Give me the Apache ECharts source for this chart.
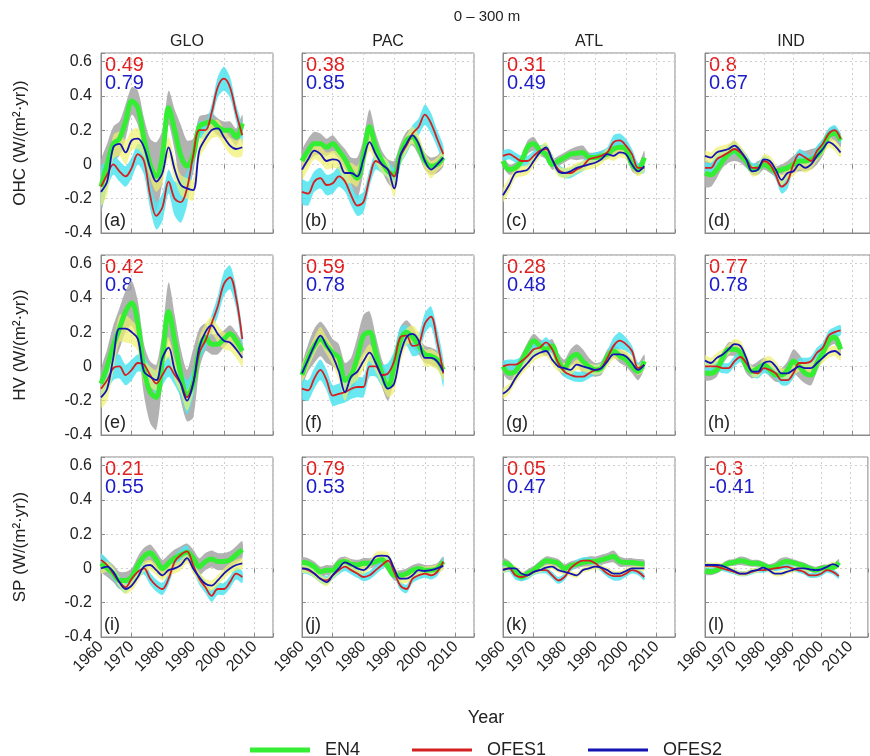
<!DOCTYPE html>
<html><head><meta charset="utf-8">
<script src="https://cdn.jsdelivr.net/npm/echarts@6/dist/echarts.min.js"></script>
<style>html,body{margin:0;padding:0;background:#fff}#c{width:870px;height:756px}</style>
</head><body><div id="c"></div>
<script>
// ---------------- DATA ----------------
const years = [1960,1962,1964,1966,1968,1970,1972,1974,1976,1978,1980,1982,1984,1986,1988,1990,1992,1994,1996,1998,2000,2002,2004,2006];
const xTicks = [1960,1970,1980,1990,2000,2010];
const yTicks = [-0.4,-0.2,0,0.2,0.4,0.6];
const basins = ['GLO','PAC','ATL','IND'];
const quantities = ['OHC','HV','SP'];
const panelLetters = ['a','b','c','d','e','f','g','h','i','j','k','l'];
const corrOFES1 = [0.49,0.38,0.31,0.8, 0.42,0.59,0.28,0.77, 0.21,0.79,0.05,-0.3];
const corrOFES2 = [0.79,0.85,0.49,0.67, 0.8,0.78,0.48,0.78, 0.55,0.53,0.47,-0.41];
const seriesNames = ['EN4','OFES1','OFES2'];

// OHC
const glo_ohc_en4   = [-0.13,0.0,0.12,0.15,0.25,0.37,0.33,0.15,0.0,-0.07,0.05,0.33,0.2,0.05,-0.01,0.05,0.22,0.24,0.25,0.22,0.2,0.2,0.16,0.24];
const glo_ohc_ofes1 = [-0.13,-0.06,0.0,-0.04,-0.07,-0.02,0.06,0.02,-0.18,-0.3,-0.25,-0.1,-0.2,-0.22,-0.14,0.05,0.2,0.2,0.3,0.45,0.5,0.45,0.3,0.17];
const glo_ohc_ofes2 = [-0.16,-0.1,0.1,0.12,0.07,0.14,0.15,0.1,-0.02,-0.1,-0.05,0.1,-0.03,-0.12,-0.14,-0.15,0.08,0.15,0.2,0.21,0.16,0.11,0.09,0.1];
const glo_ohc_en4_sd   = [0.15,0.12,0.1,0.1,0.1,0.08,0.1,0.12,0.15,0.2,0.15,0.1,0.12,0.18,0.15,0.1,0.06,0.05,0.05,0.05,0.05,0.05,0.05,0.05];
const glo_ohc_ofes1_sd = [0.12,0.08,0.06,0.06,0.06,0.06,0.06,0.08,0.08,0.08,0.08,0.07,0.1,0.12,0.1,0.07,0.05,0.05,0.05,0.06,0.07,0.06,0.05,0.05];
const glo_ohc_ofes2_sd = [0.08,0.08,0.07,0.07,0.07,0.06,0.06,0.06,0.06,0.06,0.06,0.06,0.06,0.06,0.06,0.06,0.05,0.05,0.05,0.05,0.05,0.05,0.05,0.05];

const pac_ohc_en4   = [0.02,0.08,0.12,0.12,0.1,0.12,0.08,0.03,-0.04,-0.08,0.05,0.22,0.1,0.02,-0.04,-0.06,0.06,0.14,0.16,0.1,0.02,-0.01,0.0,0.04];
const pac_ohc_ofes1 = [-0.16,-0.17,-0.1,-0.08,-0.12,-0.11,-0.07,-0.1,-0.18,-0.24,-0.22,-0.08,0.02,0.0,-0.03,-0.07,0.05,0.11,0.18,0.22,0.29,0.24,0.15,0.06];
const pac_ohc_ofes2 = [-0.03,0.03,0.08,0.06,0.02,0.03,0.02,-0.05,-0.05,-0.07,0.03,0.13,0.06,0.0,-0.03,-0.14,0.05,0.12,0.17,0.12,0.02,-0.03,0.0,0.04];
const pac_ohc_en4_sd   = [0.06,0.07,0.07,0.06,0.05,0.05,0.05,0.06,0.08,0.12,0.1,0.1,0.08,0.06,0.07,0.08,0.06,0.05,0.05,0.05,0.05,0.05,0.05,0.05];
const pac_ohc_ofes1_sd = [0.07,0.07,0.06,0.06,0.06,0.06,0.06,0.06,0.06,0.06,0.06,0.05,0.05,0.05,0.05,0.05,0.05,0.05,0.05,0.05,0.06,0.06,0.05,0.05];
const pac_ohc_ofes2_sd = [0.06,0.06,0.05,0.05,0.05,0.05,0.05,0.06,0.06,0.06,0.05,0.05,0.05,0.05,0.05,0.05,0.05,0.05,0.05,0.05,0.05,0.05,0.04,0.04];

const atl_ohc_en4   = [0.02,-0.03,-0.02,0.02,0.1,0.12,0.08,0.06,0.0,0.02,0.04,0.06,0.065,0.07,0.04,0.04,0.05,0.06,0.09,0.1,0.09,0.0,-0.03,0.04];
const atl_ohc_ofes1 = [0.05,0.06,0.04,0.02,0.02,0.05,0.08,0.09,0.03,-0.03,-0.05,-0.05,-0.03,-0.01,0.03,0.04,0.05,0.07,0.13,0.14,0.11,0.06,-0.02,-0.02];
const atl_ohc_ofes2 = [-0.18,-0.12,-0.05,-0.04,-0.03,0.02,0.07,0.1,0.03,-0.04,-0.05,-0.04,-0.02,-0.01,0.0,0.01,0.03,0.06,0.05,0.07,0.06,0.0,-0.04,-0.01];
const atl_ohc_en4_sd   = [0.03,0.03,0.03,0.03,0.04,0.04,0.03,0.03,0.03,0.03,0.03,0.03,0.04,0.04,0.03,0.03,0.03,0.03,0.04,0.04,0.04,0.04,0.03,0.04];
const atl_ohc_ofes1_sd = [0.03,0.03,0.03,0.03,0.03,0.03,0.03,0.03,0.03,0.03,0.03,0.03,0.03,0.03,0.03,0.03,0.03,0.03,0.04,0.04,0.04,0.03,0.03,0.03];
const atl_ohc_ofes2_sd = [0.04,0.04,0.03,0.03,0.03,0.03,0.03,0.03,0.03,0.03,0.03,0.03,0.03,0.03,0.03,0.03,0.03,0.03,0.03,0.03,0.03,0.03,0.03,0.03];

const ind_ohc_en4   = [-0.05,-0.06,-0.03,0.02,0.06,0.08,0.05,0.02,-0.03,-0.02,0.0,-0.02,-0.04,-0.03,-0.02,0.0,0.02,0.02,0.03,0.05,0.1,0.17,0.18,0.14];
const ind_ohc_ofes1 = [-0.02,-0.02,0.03,0.05,0.07,0.09,0.07,0.03,-0.02,-0.02,0.02,0.0,-0.06,-0.13,-0.1,0.0,0.06,0.04,0.02,0.08,0.12,0.18,0.2,0.15];
const ind_ohc_ofes2 = [0.05,0.04,0.07,0.08,0.09,0.11,0.08,0.03,-0.04,-0.03,0.03,0.02,-0.03,-0.09,-0.05,-0.04,0.0,-0.02,0.0,0.05,0.09,0.13,0.11,0.07];
const ind_ohc_en4_sd   = [0.08,0.07,0.05,0.04,0.05,0.06,0.04,0.04,0.03,0.04,0.03,0.03,0.03,0.03,0.04,0.05,0.06,0.06,0.06,0.05,0.05,0.04,0.04,0.04];
const ind_ohc_ofes1_sd = [0.03,0.03,0.03,0.03,0.03,0.03,0.03,0.03,0.03,0.03,0.03,0.03,0.03,0.04,0.04,0.03,0.03,0.03,0.03,0.03,0.03,0.03,0.03,0.03];
const ind_ohc_ofes2_sd = [0.03,0.03,0.03,0.03,0.03,0.03,0.03,0.03,0.03,0.03,0.03,0.03,0.03,0.03,0.03,0.03,0.03,0.03,0.03,0.03,0.03,0.03,0.03,0.03];

// HV
const glo_hv_en4   = [-0.1,0.0,0.12,0.22,0.32,0.37,0.25,-0.02,-0.15,-0.18,0.05,0.32,0.15,-0.05,-0.17,-0.1,0.1,0.17,0.13,0.13,0.16,0.19,0.15,0.09];
const glo_hv_ofes1 = [-0.13,-0.08,-0.01,0.0,-0.05,-0.02,0.02,0.01,-0.05,-0.1,-0.05,0.0,-0.05,-0.1,-0.18,-0.1,0.08,0.15,0.25,0.35,0.48,0.52,0.4,0.16];
const glo_hv_ofes2 = [-0.18,-0.13,0.05,0.22,0.22,0.2,0.16,-0.03,-0.06,-0.08,0.05,0.11,-0.02,-0.1,-0.2,-0.1,0.11,0.2,0.24,0.19,0.15,0.14,0.1,0.05];
const glo_hv_en4_sd   = [0.08,0.1,0.12,0.12,0.12,0.13,0.13,0.15,0.18,0.19,0.15,0.17,0.15,0.15,0.15,0.2,0.12,0.08,0.06,0.06,0.05,0.05,0.05,0.05];
const glo_hv_ofes1_sd = [0.06,0.06,0.07,0.07,0.06,0.06,0.05,0.05,0.05,0.06,0.06,0.06,0.06,0.08,0.1,0.08,0.05,0.05,0.05,0.06,0.07,0.07,0.06,0.05];
const glo_hv_ofes2_sd = [0.06,0.07,0.08,0.08,0.08,0.07,0.07,0.07,0.06,0.06,0.06,0.06,0.06,0.06,0.06,0.06,0.06,0.05,0.05,0.05,0.05,0.05,0.05,0.05];

const pac_hv_en4   = [-0.05,0.05,0.12,0.16,0.12,0.08,0.05,-0.08,-0.05,0.05,0.18,0.2,0.08,-0.04,-0.12,0.0,0.15,0.2,0.17,0.12,0.07,0.06,0.04,-0.02];
const pac_hv_ofes1 = [-0.13,-0.14,-0.07,-0.02,-0.08,-0.17,-0.16,-0.15,-0.13,-0.12,-0.12,0.0,0.0,-0.05,-0.04,0.03,0.17,0.18,0.12,0.13,0.25,0.29,0.15,-0.04];
const pac_hv_ofes2 = [-0.04,0.04,0.12,0.18,0.12,0.06,-0.03,-0.15,-0.06,-0.03,0.03,0.08,0.02,-0.06,-0.13,-0.1,0.07,0.17,0.19,0.15,0.05,0.05,0.03,-0.03];
const pac_hv_en4_sd   = [0.06,0.08,0.1,0.1,0.1,0.08,0.08,0.1,0.1,0.12,0.12,0.12,0.1,0.08,0.08,0.08,0.08,0.07,0.06,0.05,0.05,0.05,0.05,0.05];
const pac_hv_ofes1_sd = [0.06,0.06,0.06,0.06,0.06,0.06,0.06,0.06,0.06,0.06,0.06,0.06,0.06,0.06,0.06,0.06,0.06,0.06,0.06,0.06,0.06,0.06,0.07,0.08];
const pac_hv_ofes2_sd = [0.05,0.05,0.05,0.05,0.05,0.05,0.05,0.05,0.05,0.05,0.05,0.05,0.05,0.05,0.05,0.05,0.05,0.05,0.05,0.05,0.05,0.05,0.05,0.05];

const atl_hv_en4   = [0.0,-0.04,-0.03,0.03,0.1,0.15,0.12,0.1,0.12,0.03,-0.01,0.05,0.07,0.03,0.0,-0.02,-0.01,0.06,0.09,0.06,0.04,0.0,-0.03,0.03];
const atl_hv_ofes1 = [0.0,0.01,0.01,0.03,0.06,0.1,0.11,0.14,0.1,0.02,-0.03,-0.05,-0.06,-0.06,-0.04,-0.02,-0.01,0.05,0.12,0.15,0.13,0.09,-0.01,0.01];
const atl_hv_ofes2 = [-0.16,-0.13,-0.07,-0.02,0.02,0.06,0.08,0.09,0.04,0.0,-0.01,-0.02,0.01,0.0,-0.01,-0.02,-0.01,0.03,0.07,0.07,0.06,0.02,-0.02,0.01];
const atl_hv_en4_sd   = [0.04,0.04,0.04,0.04,0.04,0.04,0.04,0.04,0.04,0.05,0.05,0.05,0.06,0.07,0.05,0.04,0.04,0.04,0.04,0.04,0.04,0.04,0.05,0.04];
const atl_hv_ofes1_sd = [0.03,0.03,0.03,0.03,0.03,0.03,0.03,0.03,0.03,0.03,0.03,0.03,0.03,0.03,0.03,0.03,0.03,0.04,0.05,0.05,0.04,0.03,0.03,0.03];
const atl_hv_ofes2_sd = [0.03,0.03,0.03,0.03,0.03,0.03,0.03,0.03,0.03,0.03,0.03,0.03,0.03,0.03,0.03,0.03,0.03,0.03,0.03,0.03,0.03,0.03,0.03,0.03];

const ind_hv_en4   = [-0.04,-0.04,-0.02,0.05,0.1,0.1,0.08,0.0,-0.03,-0.01,0.01,-0.02,-0.05,-0.05,-0.02,0.03,0.0,-0.04,-0.05,0.02,0.08,0.15,0.17,0.1];
const ind_hv_ofes1 = [0.0,0.0,0.0,-0.01,-0.01,0.03,0.055,0.02,-0.03,-0.04,-0.01,-0.02,-0.04,-0.08,-0.08,-0.04,0.02,0.02,0.03,0.08,0.11,0.18,0.2,0.21];
const ind_hv_ofes2 = [0.035,0.02,0.05,0.07,0.1,0.13,0.12,0.05,-0.03,-0.03,0.02,0.03,0.0,-0.04,-0.04,-0.02,0.0,-0.01,-0.01,0.02,0.05,0.08,0.09,0.065];
const ind_hv_en4_sd   = [0.04,0.04,0.04,0.04,0.04,0.04,0.04,0.04,0.04,0.04,0.04,0.04,0.04,0.04,0.05,0.07,0.07,0.06,0.06,0.05,0.04,0.04,0.04,0.04];
const ind_hv_ofes1_sd = [0.03,0.03,0.03,0.03,0.03,0.03,0.03,0.03,0.03,0.03,0.03,0.03,0.03,0.03,0.03,0.03,0.03,0.03,0.03,0.03,0.03,0.03,0.03,0.03];
const ind_hv_ofes2_sd = [0.03,0.03,0.03,0.03,0.03,0.03,0.03,0.03,0.03,0.03,0.03,0.03,0.03,0.03,0.03,0.03,0.03,0.03,0.03,0.03,0.03,0.03,0.03,0.03];

// SP
const glo_sp_en4   = [0.03,0.0,-0.03,-0.07,-0.07,-0.05,0.02,0.07,0.09,0.05,0.0,0.03,0.06,0.08,0.095,0.06,0.01,0.04,0.055,0.04,0.04,0.05,0.08,0.11];
const glo_sp_ofes1 = [0.05,0.02,-0.03,-0.08,-0.11,-0.06,-0.02,0.0,-0.06,-0.1,-0.12,-0.06,0.04,0.08,0.1,0.02,-0.06,-0.11,-0.16,-0.12,-0.12,-0.08,-0.03,-0.05];
const glo_sp_ofes2 = [0.0,0.01,-0.02,-0.08,-0.12,-0.1,-0.05,0.01,0.02,-0.01,-0.04,-0.01,0.0,0.02,0.06,0.0,-0.05,-0.09,-0.1,-0.07,-0.03,0.0,0.02,0.03];
const glo_sp_en4_sd   = [0.05,0.05,0.05,0.05,0.05,0.05,0.05,0.05,0.05,0.05,0.05,0.05,0.05,0.05,0.05,0.05,0.05,0.05,0.05,0.05,0.05,0.05,0.05,0.05];
const glo_sp_ofes1_sd = [0.035,0.035,0.035,0.035,0.035,0.035,0.035,0.035,0.035,0.035,0.035,0.035,0.035,0.035,0.035,0.035,0.035,0.035,0.035,0.035,0.035,0.035,0.035,0.035];
const glo_sp_ofes2_sd = [0.03,0.03,0.03,0.03,0.03,0.03,0.03,0.03,0.03,0.03,0.03,0.03,0.03,0.03,0.03,0.03,0.03,0.03,0.03,0.03,0.03,0.03,0.03,0.03];

const pac_sp_en4   = [0.035,0.03,0.01,-0.02,-0.01,-0.01,0.03,0.04,0.025,0.02,0.03,0.03,0.04,0.05,0.01,-0.04,-0.04,-0.03,-0.01,0.0,-0.01,-0.01,0.0,0.04];
const pac_sp_ofes1 = [0.0,-0.01,-0.03,-0.06,-0.07,-0.04,-0.01,0.01,-0.01,-0.03,-0.05,-0.04,-0.01,0.02,0.045,-0.02,-0.1,-0.12,-0.06,-0.04,-0.03,-0.04,-0.02,0.04];
const pac_sp_ofes2 = [0.0,-0.005,-0.03,-0.06,-0.08,-0.04,0.0,0.035,0.02,0.0,-0.01,0.02,0.07,0.075,0.07,0.0,-0.06,-0.06,-0.04,-0.01,-0.015,-0.01,0.0,0.015];
const pac_sp_en4_sd   = [0.03,0.03,0.03,0.03,0.03,0.03,0.03,0.03,0.03,0.03,0.03,0.03,0.03,0.03,0.03,0.03,0.03,0.03,0.03,0.03,0.03,0.03,0.03,0.03];
const pac_sp_ofes1_sd = [0.025,0.025,0.025,0.025,0.025,0.025,0.025,0.025,0.025,0.025,0.025,0.025,0.025,0.025,0.025,0.025,0.025,0.025,0.025,0.025,0.025,0.025,0.025,0.025];
const pac_sp_ofes2_sd = [0.025,0.025,0.025,0.025,0.025,0.025,0.025,0.025,0.025,0.025,0.025,0.025,0.025,0.025,0.025,0.025,0.025,0.025,0.025,0.025,0.025,0.025,0.025,0.025];

const atl_sp_en4   = [0.035,0.02,-0.02,-0.05,-0.03,-0.01,0.02,0.045,0.04,0.03,0.0,0.015,0.025,0.035,0.04,0.04,0.05,0.06,0.07,0.04,0.035,0.035,0.03,0.025];
const atl_sp_ofes1 = [-0.005,0.0,-0.04,-0.05,-0.04,-0.02,-0.01,-0.01,-0.04,-0.07,-0.05,0.0,0.03,0.045,0.045,0.03,0.0,-0.03,-0.045,-0.045,-0.03,-0.01,-0.02,-0.05];
const atl_sp_ofes2 = [-0.01,0.0,0.0,-0.03,-0.04,-0.02,-0.01,0.005,0.01,-0.01,-0.02,-0.03,-0.04,-0.01,0.0,0.01,0.005,-0.01,-0.03,-0.03,-0.015,0.0,0.0,0.0];
const atl_sp_en4_sd   = [0.025,0.025,0.025,0.025,0.025,0.025,0.025,0.025,0.025,0.025,0.025,0.025,0.025,0.025,0.03,0.03,0.03,0.03,0.035,0.03,0.025,0.025,0.025,0.025];
const atl_sp_ofes1_sd = [0.02,0.02,0.025,0.025,0.025,0.02,0.02,0.02,0.02,0.02,0.02,0.02,0.02,0.02,0.02,0.02,0.02,0.02,0.025,0.025,0.02,0.02,0.02,0.02];
const atl_sp_ofes2_sd = [0.015,0.015,0.015,0.015,0.015,0.015,0.015,0.015,0.015,0.015,0.015,0.015,0.015,0.015,0.015,0.015,0.015,0.015,0.015,0.015,0.015,0.015,0.015,0.015];

const ind_sp_en4   = [-0.015,-0.02,-0.01,0.01,0.03,0.035,0.045,0.04,0.03,0.03,0.02,0.005,0.01,0.03,0.04,0.035,0.025,0.015,0.0,-0.01,0.0,0.005,0.005,0.035];
const ind_sp_ofes1 = [0.015,0.015,0.01,0.0,-0.01,-0.02,-0.03,-0.03,-0.02,-0.01,-0.01,-0.005,0.0,0.005,0.01,0.0,-0.01,-0.02,-0.04,-0.04,-0.03,-0.01,-0.02,-0.045];
const ind_sp_ofes2 = [0.02,0.02,0.02,0.015,0.0,-0.015,-0.03,-0.03,-0.015,-0.01,0.005,-0.01,-0.03,-0.03,-0.02,-0.01,0.0,0.0,-0.005,-0.01,-0.005,0.01,0.025,0.01];
const ind_sp_en4_sd   = [0.02,0.02,0.02,0.02,0.02,0.02,0.025,0.025,0.02,0.02,0.02,0.02,0.025,0.03,0.025,0.02,0.02,0.02,0.02,0.02,0.02,0.02,0.02,0.02];
const ind_sp_ofes1_sd = [0.015,0.015,0.015,0.015,0.015,0.015,0.015,0.015,0.015,0.015,0.015,0.015,0.015,0.015,0.015,0.015,0.015,0.015,0.015,0.015,0.015,0.015,0.015,0.015];
const ind_sp_ofes2_sd = [0.015,0.015,0.015,0.015,0.015,0.015,0.015,0.015,0.015,0.015,0.015,0.015,0.015,0.015,0.015,0.015,0.015,0.015,0.015,0.015,0.015,0.015,0.015,0.015];

// ---------------- PANEL TABLE (built from the arrays) ----------------
const panels = [
  [glo_ohc_en4,glo_ohc_ofes1,glo_ohc_ofes2,glo_ohc_en4_sd,glo_ohc_ofes1_sd,glo_ohc_ofes2_sd],
  [pac_ohc_en4,pac_ohc_ofes1,pac_ohc_ofes2,pac_ohc_en4_sd,pac_ohc_ofes1_sd,pac_ohc_ofes2_sd],
  [atl_ohc_en4,atl_ohc_ofes1,atl_ohc_ofes2,atl_ohc_en4_sd,atl_ohc_ofes1_sd,atl_ohc_ofes2_sd],
  [ind_ohc_en4,ind_ohc_ofes1,ind_ohc_ofes2,ind_ohc_en4_sd,ind_ohc_ofes1_sd,ind_ohc_ofes2_sd],
  [glo_hv_en4,glo_hv_ofes1,glo_hv_ofes2,glo_hv_en4_sd,glo_hv_ofes1_sd,glo_hv_ofes2_sd],
  [pac_hv_en4,pac_hv_ofes1,pac_hv_ofes2,pac_hv_en4_sd,pac_hv_ofes1_sd,pac_hv_ofes2_sd],
  [atl_hv_en4,atl_hv_ofes1,atl_hv_ofes2,atl_hv_en4_sd,atl_hv_ofes1_sd,atl_hv_ofes2_sd],
  [ind_hv_en4,ind_hv_ofes1,ind_hv_ofes2,ind_hv_en4_sd,ind_hv_ofes1_sd,ind_hv_ofes2_sd],
  [glo_sp_en4,glo_sp_ofes1,glo_sp_ofes2,glo_sp_en4_sd,glo_sp_ofes1_sd,glo_sp_ofes2_sd],
  [pac_sp_en4,pac_sp_ofes1,pac_sp_ofes2,pac_sp_en4_sd,pac_sp_ofes1_sd,pac_sp_ofes2_sd],
  [atl_sp_en4,atl_sp_ofes1,atl_sp_ofes2,atl_sp_en4_sd,atl_sp_ofes1_sd,atl_sp_ofes2_sd],
  [ind_sp_en4,ind_sp_ofes1,ind_sp_ofes2,ind_sp_en4_sd,ind_sp_ofes1_sd,ind_sp_ofes2_sd]
];

// ---------------- LAYOUT / STYLE ----------------
const FONT = '"Liberation Sans", Arial, sans-serif';
const colLeft = [101, 302, 503, 705];
const rowTop = [53, 255, 457];
const GW = 172, GH = 180;
const X_MIN = 1960, X_MAX = 2016, Y_MIN = -0.4, Y_MAX = 0.65;
const lineColors = ['#33ee33', '#d42020', '#1414b4'];
const lineWidths = [5, 1.8, 1.8];
const bandColors = ['rgba(170,170,170,0.9)', 'rgba(80,228,240,0.85)', 'rgba(240,240,110,0.7)'];
const frameColor = '#8a8a8a';

const chart = echarts.init(document.getElementById('c'), null, {renderer: 'canvas'});

const grids = [], xAxes = [], xAxesTop = [], yAxes = [], series = [], graphics = [];

function bandSeries(gi, center, sd, color) {
  const data = years.map((y, i) => [y, center[i] - sd[i], center[i] + sd[i]]);
  return {
    type: 'custom', xAxisIndex: gi, yAxisIndex: gi, silent: true, z: 1,
    data: data, encode: {x: 0, y: [1, 2]}, clip: true,
    renderItem: function (params, api) {
      if (params.dataIndex !== 0) return null;
      const up = [], dn = [];
      for (let i = 0; i < data.length; i++) {
        up.push(api.coord([data[i][0], data[i][2]]));
        dn.push(api.coord([data[i][0], data[i][1]]));
      }
      return {type: 'polygon', shape: {points: up.concat(dn.reverse()), smooth: 0.25}, style: {fill: color}};
    }
  };
}

for (let r = 0; r < 3; r++) {
  for (let c = 0; c < 4; c++) {
    const gi = r * 4 + c;
    grids.push({left: colLeft[c], top: rowTop[r], width: GW, height: GH, show: true,
      borderColor: frameColor, borderWidth: 1, backgroundColor: 'transparent', containLabel: false});
    xAxes.push({
      type: 'value', gridIndex: gi, position: 'bottom', min: X_MIN, max: X_MAX, interval: 10,
      axisLine: {show: true, onZero: false, lineStyle: {color: frameColor, width: 1}},
      axisTick: {show: true, inside: true, length: 4, lineStyle: {color: frameColor}},
      splitLine: {show: true, lineStyle: {color: '#cfcfcf', type: [2, 3], width: 1}},
      axisLabel: {show: r === 2, rotate: 45, fontSize: 16, color: '#222', fontFamily: FONT, margin: 7,
        formatter: v => (xTicks.indexOf(v) >= 0 ? String(v) : '')}
    });
    xAxesTop.push({
      type: 'value', gridIndex: gi, position: 'top', min: X_MIN, max: X_MAX, interval: 10,
      axisLine: {show: false}, axisTick: {show: true, inside: true, length: 4, lineStyle: {color: frameColor}},
      splitLine: {show: false}, axisLabel: {show: false}
    });
    yAxes.push({
      type: 'value', gridIndex: gi, min: Y_MIN, max: Y_MAX, interval: 0.2,
      axisLine: {show: true, lineStyle: {color: frameColor, width: 1}},
      axisTick: {show: true, inside: true, length: 4, lineStyle: {color: frameColor}},
      splitLine: {show: true, lineStyle: {color: '#cfcfcf', type: [2, 3], width: 1}},
      axisLabel: {show: c === 0, fontSize: 16, color: '#222', fontFamily: FONT, margin: 9,
        formatter: v => {
          const k = yTicks.find(t => Math.abs(t - v) < 1e-6);
          return k === undefined ? '' : String(k);
        }}
    });

    const p = panels[gi];
    for (let k = 0; k < 3; k++) series.push(bandSeries(gi, p[k], p[k + 3], bandColors[k]));
    for (let k = 0; k < 3; k++) {
      series.push({
        name: seriesNames[k], type: 'line', xAxisIndex: gi, yAxisIndex: gi,
        data: years.map((y, i) => [y, p[k][i]]),
        showSymbol: false, symbol: 'none', smooth: 0.35, z: 3 + k, silent: true,
        color: lineColors[k], itemStyle: {color: lineColors[k]},
        lineStyle: {color: lineColors[k], width: lineWidths[k]}
      });
    }

    // annotations
    graphics.push({type: 'text', x: colLeft[c] + 4, y: rowTop[r] + 12, silent: true,
      style: {text: String(corrOFES1[gi]), fill: '#e02020', font: '20px ' + FONT, textAlign: 'left', textVerticalAlign: 'middle'}});
    graphics.push({type: 'text', x: colLeft[c] + 4, y: rowTop[r] + 30, silent: true,
      style: {text: String(corrOFES2[gi]), fill: '#1c1cc8', font: '20px ' + FONT, textAlign: 'left', textVerticalAlign: 'middle'}});
    graphics.push({type: 'text', x: colLeft[c] + 3, y: rowTop[r] + 168, silent: true,
      style: {text: '(' + panelLetters[gi] + ')', fill: '#222', font: '18px ' + FONT, textAlign: 'left', textVerticalAlign: 'middle'}});
  }
}

// column titles
for (let c = 0; c < 4; c++) {
  graphics.push({type: 'text', x: colLeft[c] + GW / 2, y: 42, silent: true,
    style: {text: basins[c], fill: '#222', font: '16px ' + FONT, textAlign: 'center', textVerticalAlign: 'middle'}});
}
// row titles
for (let r = 0; r < 3; r++) {
  graphics.push({type: 'text', x: 20, y: rowTop[r] + GH / 2, rotation: Math.PI / 2, silent: true,
    style: {text: quantities[r] + ' (W/(m\u00b2\u00b7yr))', fill: '#222', font: '17px ' + FONT, textAlign: 'center', textVerticalAlign: 'middle'}});
}
graphics.push({type: 'text', x: 487, y: 17, silent: true,
  style: {text: '0 \u2013 300 m', fill: '#222', font: '15px ' + FONT, textAlign: 'center', textVerticalAlign: 'middle'}});
graphics.push({type: 'text', x: 486, y: 718, silent: true,
  style: {text: 'Year', fill: '#222', font: '18px ' + FONT, textAlign: 'center', textVerticalAlign: 'middle'}});

const legendBase = {orient: 'horizontal', top: 736, itemWidth: 60, selectedMode: false,
  textStyle: {fontSize: 18, color: '#222', fontFamily: FONT, padding: [0, 0, 0, 10]}};
const legends = [
  Object.assign({}, legendBase, {left: 245, itemHeight: 5, data: [{name: 'EN4', icon: 'rect'}]}),
  Object.assign({}, legendBase, {left: 407, itemHeight: 3, data: [{name: 'OFES1', icon: 'rect'}]}),
  Object.assign({}, legendBase, {left: 583, itemHeight: 3, data: [{name: 'OFES2', icon: 'rect'}]})
];

chart.setOption({
  animation: false,
  backgroundColor: '#fff',
  textStyle: {fontFamily: FONT},
  grid: grids,
  xAxis: xAxes.concat(xAxesTop),
  yAxis: yAxes,
  legend: legends,
  series: series,
  graphic: {elements: graphics}
});
</script>
</body></html>
